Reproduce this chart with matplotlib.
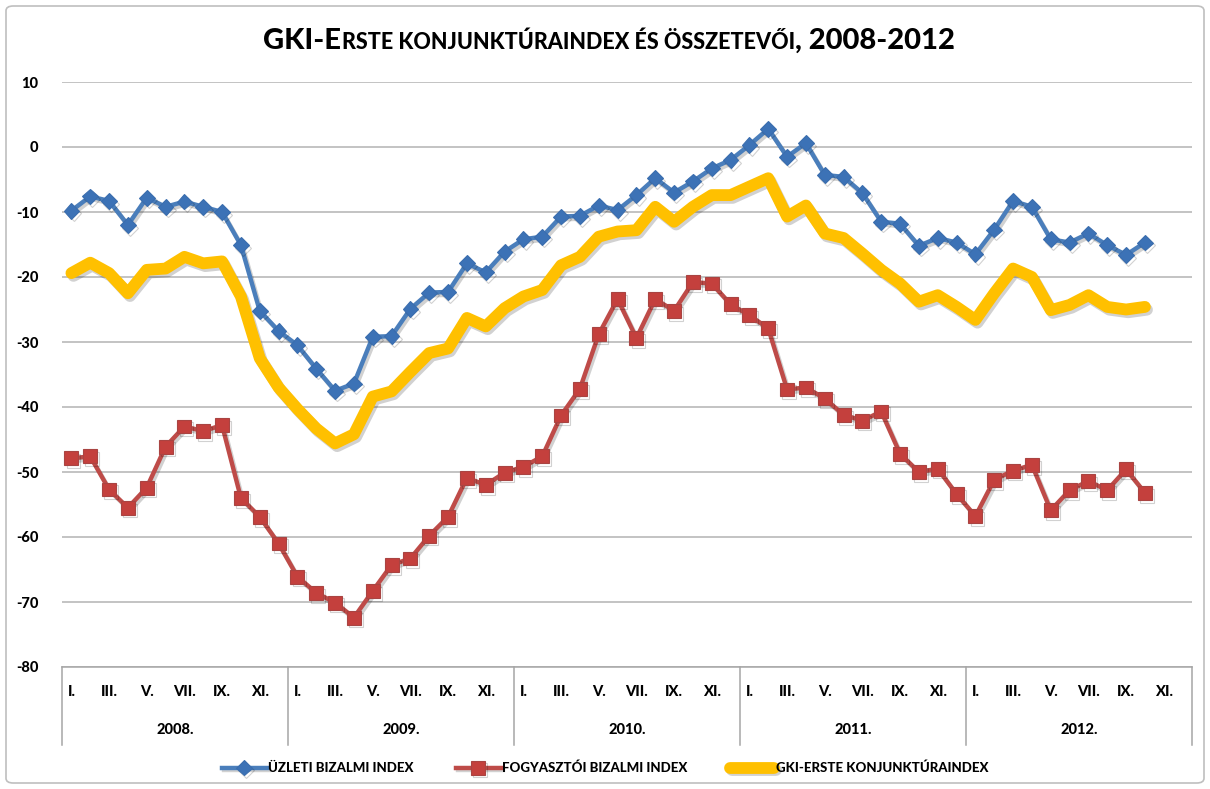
import matplotlib
matplotlib.use("Agg")
import matplotlib.pyplot as plt
import matplotlib.patheffects as pe
from matplotlib.patches import FancyBboxPatch
from matplotlib.transforms import blended_transform_factory
from matplotlib.lines import Line2D

# ---------------- data ----------------
years = ["2008.", "2009.", "2010.", "2011.", "2012."]
month_labels = ["I.", "II.", "III.", "IV.", "V.", "VI.", "VII.", "VIII.", "IX.", "X.", "XI.", "XII."]

uzleti = [
    -9.8, -7.6, -8.3, -12.0, -7.8, -9.2, -8.4, -9.2, -10.0, -15.1, -25.2, -28.3,
    -30.5, -34.1, -37.5, -36.4, -29.2, -29.1, -24.9, -22.4, -22.3, -17.9, -19.3, -16.1,
    -14.2, -13.8, -10.7, -10.6, -9.0, -9.7, -7.4, -4.8, -7.0, -5.3, -3.3, -2.0,
    0.3, 2.8, -1.5, 0.6, -4.3, -4.6, -7.1, -11.5, -11.8, -15.2, -14.0, -14.7,
    -16.5, -12.7, -8.3, -9.2, -14.2, -14.7, -13.3, -15.1, -16.6, -14.7,
]
fogyasztoi = [
    -47.9, -47.6, -52.7, -55.5, -52.4, -46.1, -43.0, -43.7, -42.8, -54.0, -56.9, -61.0,
    -66.1, -68.6, -70.1, -72.4, -68.3, -64.3, -63.3, -59.8, -56.9, -50.9, -52.0, -50.1,
    -49.2, -47.6, -41.3, -37.2, -28.8, -23.4, -29.4, -23.4, -25.2, -20.8, -21.0, -24.2,
    -25.9, -27.9, -37.3, -37.0, -38.7, -41.2, -42.1, -40.7, -47.2, -50.0, -49.5, -53.4,
    -56.8, -51.2, -49.8, -48.9, -55.9, -52.8, -51.4, -52.8, -49.6, -53.2,
]
gki = [
    -19.4, -17.8, -19.4, -22.5, -18.9, -18.7, -16.9, -17.9, -17.6, -23.0, -32.5, -37.0,
    -40.3, -43.3, -45.6, -44.2, -38.4, -37.6, -34.6, -31.7, -31.0, -26.3, -27.6, -24.8,
    -23.0, -22.0, -18.2, -16.9, -13.8, -13.0, -12.8, -9.2, -11.5, -9.2, -7.4, -7.4,
    -6.1, -4.8, -10.7, -9.0, -13.3, -14.0, -16.4, -18.9, -21.0, -23.8, -22.8, -24.6,
    -26.6, -22.5, -18.7, -20.0, -25.1, -24.3, -22.8, -24.6, -25.0, -24.6,
]
series_names = ["ÜZLETI BIZALMI INDEX", "FOGYASZTÓI BIZALMI INDEX", "GKI-ERSTE KONJUNKTÚRAINDEX"]
yticks = [10, 0, -10, -20, -30, -40, -50, -60, -70, -80]

# ---------------- style ----------------
FONT = ["Lato", "DejaVu Sans"]
WEIGHT = "black"
plt.rcParams["font.family"] = FONT
plt.rcParams["font.weight"] = WEIGHT

W, H = 1210, 789
fig = plt.figure(figsize=(W / 100, H / 100), dpi=100)
fig.patch.set_facecolor("white")

# outer chart border
border = FancyBboxPatch((6 / W, 6 / H), (W - 12) / W, (H - 12) / H,
                        boxstyle="round,pad=0,rounding_size=0.006",
                        transform=fig.transFigure, facecolor="none",
                        edgecolor="#BFBFBF", linewidth=1.2)
fig.patches.append(border)

L, R, T, B = 62, 1192, 82, 667
ax = fig.add_axes([L / W, 1 - B / H, (R - L) / W, (B - T) / H])

n_total = len(years) * 12
x = list(range(len(uzleti)))

shadow = [pe.SimpleLineShadow(offset=(1.5, -2), alpha=0.18, shadow_color="black"), pe.Normal()]

ax.plot(x, gki, color="#FFC000", lw=8.5, solid_joinstyle="round", solid_capstyle="round",
        label=series_names[2], zorder=3, path_effects=shadow)
ax.plot(x, fogyasztoi, color="#BE4B48", lw=3.2, marker="s", markersize=10,
        markerfacecolor="#C4403D", markeredgecolor="#A94442", markeredgewidth=0.8,
        label=series_names[1], zorder=4, path_effects=shadow)
ax.plot(x, uzleti, color="#4A7EBB", lw=3.2, marker="D", markersize=8,
        markerfacecolor="#3C72B6", markeredgecolor="#3A6DAE", markeredgewidth=0.8,
        label=series_names[0], zorder=5, path_effects=shadow)

ax.set_xlim(-0.5, n_total - 0.5)
ax.set_ylim(-80, 10)
ax.set_yticks(yticks)
ax.set_yticklabels([str(v) for v in yticks], fontsize=10.5, fontweight=WEIGHT)
ax.tick_params(axis="y", length=0, pad=17)
ax.grid(axis="y", color="#B3B3B3", linewidth=1.1)
ax.set_axisbelow(True)
for s in ["left", "right", "top"]:
    ax.spines[s].set_visible(False)
ax.spines["bottom"].set_color("#A6A6A6")
ax.spines["bottom"].set_linewidth(1.1)

# month ticks (odd months)
tick_pos = [yi * 12 + m for yi in range(len(years)) for m in range(0, 12, 2)]
tick_lab = [month_labels[m] for yi in range(len(years)) for m in range(0, 12, 2)]
ax.set_xticks(tick_pos)
ax.set_xticklabels(tick_lab, fontsize=10.5, fontweight=WEIGHT)
ax.tick_params(axis="x", length=0, pad=13)

trans = blended_transform_factory(ax.transData, ax.transAxes)
axh = B - T
for yi, yr in enumerate(years):
    ax.text(yi * 12 + 5.5, -(730 - B) / axh, yr, transform=trans, ha="center", va="center",
            fontsize=10.5, fontweight=WEIGHT)
for k in range(len(years) + 1):
    ax.add_line(Line2D([k * 12 - 0.5, k * 12 - 0.5], [0, -(745 - B) / axh], transform=trans,
                       color="#A6A6A6", lw=1.1, clip_on=False))

# legend
handles, labels = ax.get_legend_handles_labels()
order = [2, 1, 0]
leg = fig.legend([handles[i] for i in order], [labels[i] for i in order],
                 loc="center", bbox_to_anchor=(0.5, 1 - 768 / H), ncol=3, frameon=False,
                 prop={"family": FONT, "weight": WEIGHT, "size": 9.5},
                 handlelength=3.4, columnspacing=3.2, handletextpad=0.1)

# title in small caps style
fig.canvas.draw()
renderer = fig.canvas.get_renderer()
segments = [("GKI-E", 21), ("RSTE KONJUNKTÚRAINDEX ÉS ÖSSZETEVŐI", 15.5), (", 2008-2012", 21)]
texts = []
for s, sz in segments:
    t = fig.text(0, 1 - 49 / H, s, fontsize=sz, fontweight=WEIGHT, family=FONT,
                 ha="left", va="baseline", color="black")
    texts.append(t)
widths = [t.get_window_extent(renderer).width for t in texts]
total = sum(widths)
xpos = 609 - total / 2
for t, w in zip(texts, widths):
    t.set_x(xpos / W)
    xpos += w

fig.savefig("out.png", dpi=100, facecolor="white")
